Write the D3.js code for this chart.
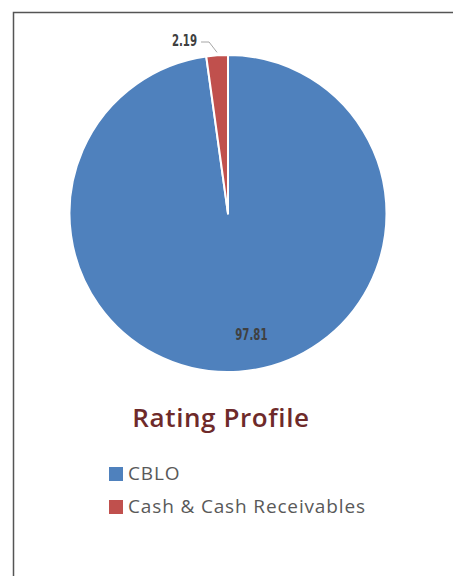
<!DOCTYPE html>
<html>
<head>
<meta charset="utf-8">
<script src="https://cdn.jsdelivr.net/npm/d3@7"></script>
<style>
body { margin: 0; background: #fff; }
</style>
</head>
<body>
<div id="chart"></div>
<script>
var categories = ["CBLO", "Cash & Cash Receivables"];
var values = [97.81, 2.19];
var colors = ["#4f81bd", "#c0504d"];
var title = "Rating Profile";

var w = 453;
var h = 576;
var cx = 228;
var cy = 213.5;
var radius = 158.5;

var svg = d3.select("#chart")
    .append("svg")
    .attr("width", w)
    .attr("height", h);

// frame (only top and left edges show in the crop)
svg.append("path")
    .attr("d", "M13.5," + h + "V12.5H" + w)
    .attr("fill", "none")
    .attr("stroke", "#555")
    .attr("stroke-width", 1.5);

var pie = d3.pie()
    .sort(null)
    .value(function(d) { return d; });

var arcs = pie(values);

var arc = d3.arc()
    .innerRadius(0)
    .outerRadius(radius);

var g = svg.append("g")
    .attr("transform", "translate(" + cx + "," + cy + ")");

g.selectAll("path")
    .data(arcs)
    .enter()
    .append("path")
    .attr("d", arc)
    .attr("fill", function(d, i) { return colors[i]; })
    .attr("stroke", "#fff")
    .attr("stroke-width", 2)
    .attr("stroke-linejoin", "round");

// numbers use a squeezed font to look condensed
function numLabel(x, y, anchor, txt) {
    g.append("text")
        .attr("transform", "translate(" + x + "," + y + ") scale(0.68,1)")
        .attr("text-anchor", anchor)
        .attr("font-family", "'DejaVu Sans', sans-serif")
        .attr("font-weight", "bold")
        .attr("font-size", "15px")
        .attr("fill", "#404040")
        .text(txt);
}

// inside label for the big slice
var inner = d3.arc().innerRadius(radius * 0.77).outerRadius(radius * 0.77);
var c0 = inner.centroid(arcs[0]);
numLabel(c0[0] + 15, c0[1] + 5, "middle", values[0].toFixed(2));

// outside label with leader line for the small slice
var edge = d3.arc().innerRadius(radius + 1).outerRadius(radius + 1);
var e1 = edge.centroid(arcs[1]);
var lx = e1[0] - 8, ly = -radius - 13;
g.append("polyline")
    .attr("points", [[e1[0], e1[1] - 2], [lx, ly], [lx - 8, ly]].map(function(p) { return p.join(","); }).join(" "))
    .attr("fill", "none")
    .attr("stroke", "#a6a6a6")
    .attr("stroke-width", 1);
numLabel(lx - 12, ly + 4, "end", values[1].toFixed(2));

// title
svg.append("text")
    .attr("x", 221)
    .attr("y", 427)
    .attr("text-anchor", "middle")
    .attr("font-family", "'Open Sans', sans-serif")
    .attr("font-size", "26px")
    .attr("font-weight", 600)
    .attr("letter-spacing", "0.6px")
    .attr("fill", "#6e2a2a")
    .text(title);

// legend
var legend = svg.selectAll(".legend")
    .data(categories)
    .enter()
    .append("g")
    .attr("class", "legend")
    .attr("transform", function(d, i) {
        return "translate(109," + (467 + i * 33) + ")";
    });

legend.append("rect")
    .attr("width", 14)
    .attr("height", 14)
    .attr("fill", function(d, i) { return colors[i]; });

legend.append("text")
    .attr("x", 19)
    .attr("y", 13)
    .attr("font-family", "'Open Sans', sans-serif")
    .attr("font-size", "19px")
    .attr("letter-spacing", "0.85px")
    .attr("fill", "#595959")
    .text(function(d) { return d; });
</script>
</body>
</html>
